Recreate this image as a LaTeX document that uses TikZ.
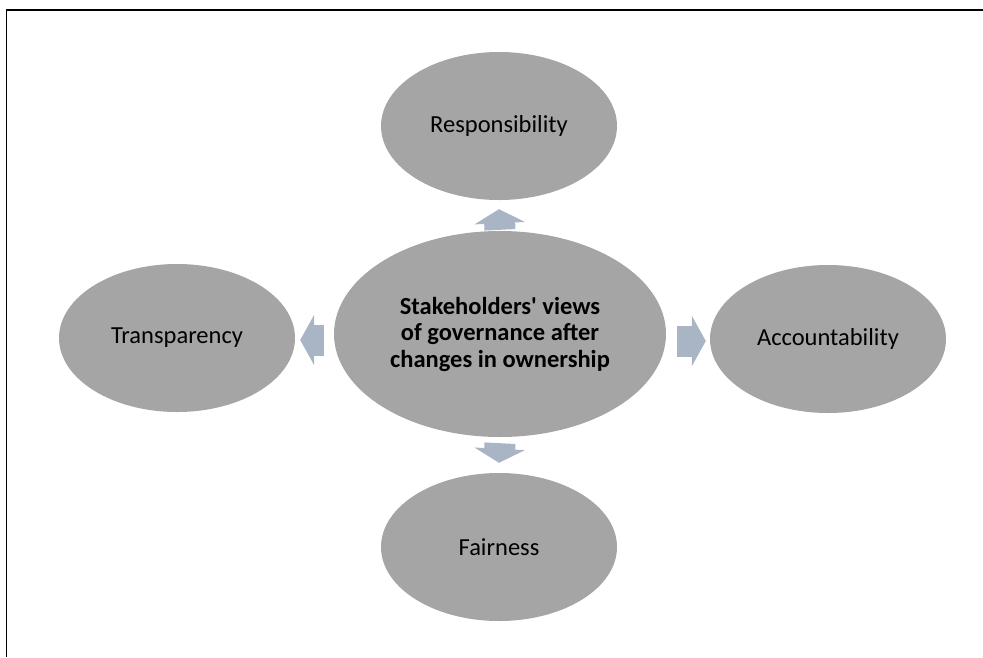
\documentclass[tikz,border=0pt]{standalone}
\usepackage{fontspec}
\setmainfont{Carlito}
\usetikzlibrary{shapes.geometric,arrows.meta}
\definecolor{ovalgray}{HTML}{A5A5A5}
\definecolor{arrowblue}{RGB}{169,180,197}

\begin{document}
\begin{tikzpicture}[x=1pt,y=-1pt,
        oval/.style={ellipse, fill=ovalgray, inner sep=0pt, minimum width=236pt, minimum height=148pt, font=\fontsize{24.5}{26.5}\selectfont},
        blockarrow/.style={draw=arrowblue, line width=31pt, -{Triangle[length=14pt,width=50pt]}, arrowblue}]
        % Fix the page and draw the frame
        \useasboundingbox (0,0) rectangle (983,657);
        \draw[line width=1.6pt] (6.5,657) -- (6.5,10) -- (983,10);
        % Draw the ovals
        \node[oval, minimum width=332pt, minimum height=206pt, align=center, font=\fontsize{24.5}{26.5}\selectfont\bfseries] (hub) at (500,334) {Stakeholders\textquotesingle\ views\\of governance after\\changes in ownership};
        \node[oval] (resp) at (499,126) {Responsibility};
        \node[oval] (fair) at (499,547) {Fairness};
        \node[oval] (trans) at (177,338) {Transparency};
        \node[oval] (acc) at (828,339) {Accountability};
        % Draw the arrows between them
        \draw[blockarrow] ([yshift=1pt]hub.north) -- ([yshift=-9pt]resp.south);
        \draw[blockarrow] ([yshift=-6pt]hub.south) -- ([yshift=10pt]fair.north);
        \draw[blockarrow] ([xshift=-10pt,yshift=-6pt]hub.west) -- ([xshift=5pt,yshift=-2pt]trans.east);
        \draw[blockarrow] ([xshift=11pt,yshift=-7pt]hub.east) -- ([xshift=-4pt,yshift=-2pt]acc.west);
    \end{tikzpicture}
\end{document}
